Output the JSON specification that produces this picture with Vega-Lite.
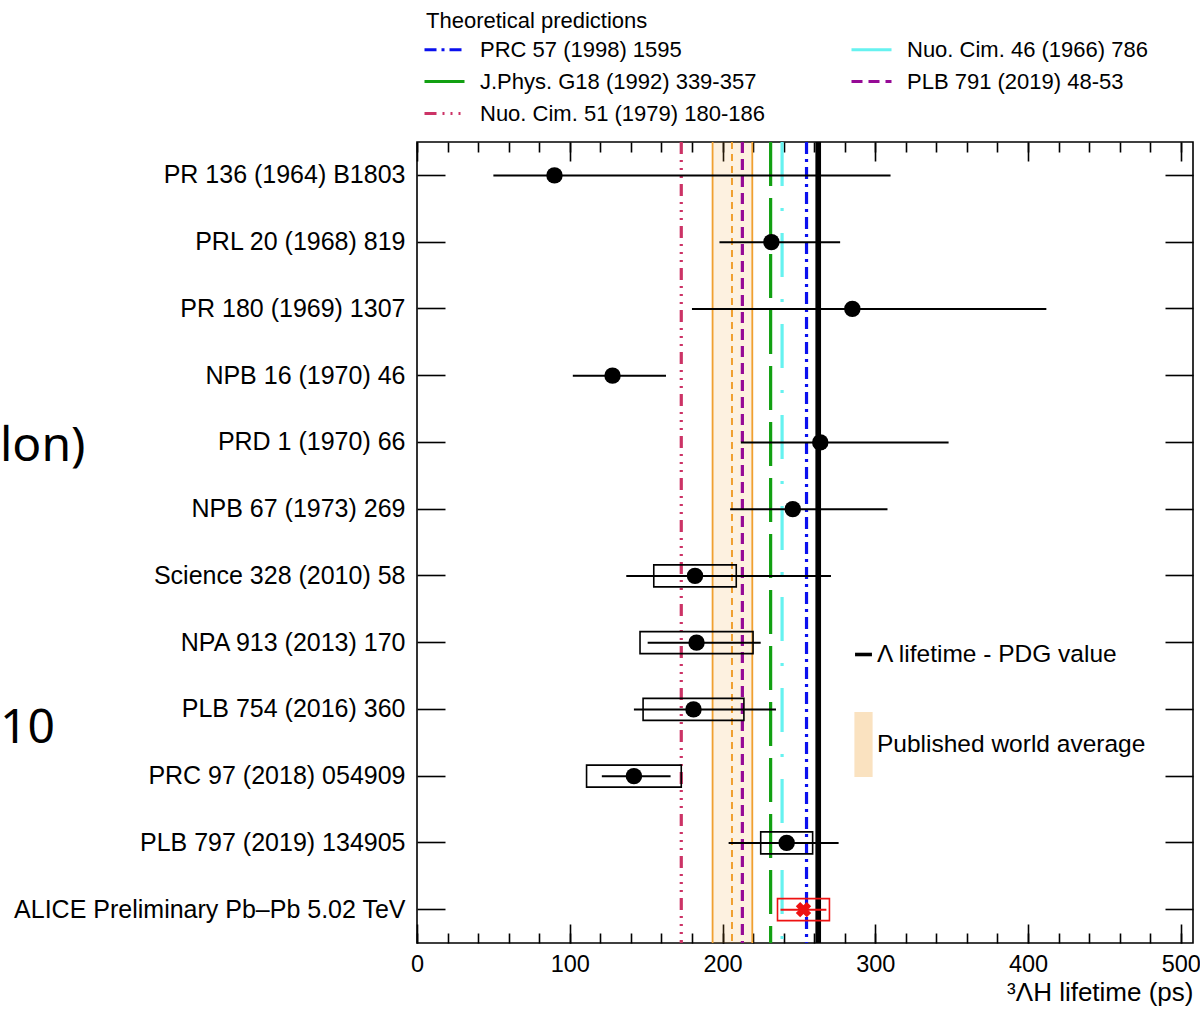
{
  "$schema": "https://vega.github.io/schema/vega-lite/v6.json",
  "width": 776,
  "height": 801,
  "autosize": {"type": "none"},
  "padding": {"left": 417, "top": 142, "right": 7, "bottom": 66},
  "background": "white",
  "config": {
    "font": "Liberation Sans",
    "view": {"stroke": "black", "strokeWidth": 1.6},
    "axis": {"grid": false, "domain": false, "tickColor": "black", "tickWidth": 1.6, "labelColor": "black", "titleColor": "black", "labelFont": "Liberation Sans", "titleFont": "Liberation Sans", "titleFontWeight": "normal", "labelLimit": 600},
    "legend": {"labelFont": "Liberation Sans", "titleFont": "Liberation Sans", "labelColor": "black", "titleColor": "black", "titleFontWeight": "normal", "padding": 0, "labelLimit": 600, "titleLimit": 600}
  },
  "datasets": {
    "meas": [
      {"name": "PR 136 (1964) B1803", "group": "past", "v": 90, "slo": 50, "shi": 310},
      {"name": "PRL 20 (1968) 819", "group": "past", "v": 232, "slo": 198, "shi": 277},
      {"name": "PR 180 (1969) 1307", "group": "past", "v": 285, "slo": 180, "shi": 412},
      {"name": "NPB 16 (1970) 46", "group": "past", "v": 128, "slo": 102, "shi": 163},
      {"name": "PRD 1 (1970) 66", "group": "past", "v": 264, "slo": 212, "shi": 348},
      {"name": "NPB 67 (1973) 269", "group": "past", "v": 246, "slo": 205, "shi": 308},
      {"name": "Science 328 (2010) 58", "group": "past", "v": 182, "slo": 137, "shi": 271, "ylo": 155, "yhi": 209},
      {"name": "NPA 913 (2013) 170", "group": "past", "v": 183, "slo": 151, "shi": 225, "ylo": 146, "yhi": 220},
      {"name": "PLB 754 (2016) 360", "group": "past", "v": 181, "slo": 142, "shi": 235, "ylo": 148, "yhi": 214},
      {"name": "PRC 97 (2018) 054909", "group": "past", "v": 142, "slo": 121, "shi": 166, "ylo": 111, "yhi": 173},
      {"name": "PLB 797 (2019) 134905", "group": "past", "v": 242, "slo": 204, "shi": 276, "ylo": 225, "yhi": 259},
      {"name": "ALICE Preliminary Pb–Pb 5.02 TeV", "group": "alice", "v": 253, "slo": 238, "shi": 268, "ylo": 236, "yhi": 270}
    ],
    "theory": [
      {"name": "PRC 57 (1998) 1595", "v": 255},
      {"name": "Nuo. Cim. 46 (1966) 786", "v": 239},
      {"name": "J.Phys. G18 (1992) 339-357", "v": 231.5},
      {"name": "PLB 791 (2019) 48-53", "v": 213},
      {"name": "Nuo. Cim. 51 (1979) 180-186", "v": 173}
    ],
    "bands": [
      {"name": "Published world average", "lo": 193.5, "hi": 219.5},
      {"name": "Λ lifetime - PDG value", "lo": 260.8, "hi": 264.5}
    ],
    "waedges": [{"v": 193.5}, {"v": 219.5}],
    "wacenter": [{"v": 206.2}],
    "notes": [
      {"text": "lon)", "row": "PRD 1 (1970) 66", "at": -273},
      {"text": "10", "row": "PLB 754 (2016) 360", "at": -273}
    ]
  },
  "layer": [
    {
      "data": {"name": "bands"},
      "mark": {"type": "rect"},
      "encoding": {
        "x": {"field": "lo", "type": "quantitative", "scale": {"domain": [0, 508], "nice": false, "zero": false},
          "axis": {"orient": "bottom", "values": [0, 100, 200, 300, 400, 500], "tickSize": -19, "labelPadding": 28, "labelFontSize": 23.5, "labelFlush": false, "title": "³ΛH lifetime (ps)", "titleFontSize": 26, "titleAnchor": "end", "titlePadding": 4}},
        "x2": {"field": "hi"},
        "fill": {"field": "name", "type": "nominal",
          "scale": {"domain": ["Λ lifetime - PDG value", "Published world average"], "range": ["black", "#f0a030"]},
          "legend": {"title": null, "orient": "none", "legendX": 414, "legendY": 480, "direction": "vertical", "symbolSize": 4225, "labelFontSize": 24.5, "labelOffset": -19, "rowPadding": 46, "symbolStrokeWidth": 0,
            "encode": {"symbols": {"update": {
              "shape": {"signal": "datum.value === 'Published world average' ? 'M-0.28,-1H0.28V1H-0.28Z' : 'M-0.26,-0.055H0.26V0.055H-0.26Z'"},
              "fillOpacity": {"signal": "datum.value === 'Published world average' ? 0.3 : 1"}
            }}}}},
        "fillOpacity": {"field": "name", "type": "nominal", "scale": {"domain": ["Λ lifetime - PDG value", "Published world average"], "range": [1, 0.15]}, "legend": null}
      }
    },
    {
      "data": {"name": "waedges"},
      "mark": {"type": "rule", "color": "#f0a030", "strokeWidth": 1.8},
      "encoding": {
        "x": {"field": "v", "type": "quantitative", "scale": {"domain": [0, 508], "nice": false, "zero": false},
          "axis": {"orient": "top", "values": [0, 100, 200, 300, 400, 500], "tickSize": -19, "labels": false, "title": null}}
      }
    },
    {
      "data": {"name": "wacenter"},
      "mark": {"type": "rule", "color": "#f0a030", "strokeWidth": 2, "strokeDash": [7, 5]},
      "encoding": {
        "x": {"field": "v", "type": "quantitative", "scale": {"domain": [0, 508], "nice": false, "zero": false},
          "axis": {"orient": "top", "values": [0, 20, 40, 60, 80, 100, 120, 140, 160, 180, 200, 220, 240, 260, 280, 300, 320, 340, 360, 380, 400, 420, 440, 460, 480, 500], "tickSize": -10, "labels": false, "title": null}}
      }
    },
    {
      "data": {"name": "theory"},
      "mark": {"type": "rule", "strokeWidth": 3.2},
      "encoding": {
        "x": {"field": "v", "type": "quantitative", "scale": {"domain": [0, 508], "nice": false, "zero": false},
          "axis": {"orient": "bottom", "values": [0, 20, 40, 60, 80, 100, 120, 140, 160, 180, 200, 220, 240, 260, 280, 300, 320, 340, 360, 380, 400, 420, 440, 460, 480, 500], "tickSize": -10, "labels": false, "title": null}},
        "stroke": {"field": "name", "type": "nominal",
          "scale": {"domain": ["PRC 57 (1998) 1595", "J.Phys. G18 (1992) 339-357", "Nuo. Cim. 51 (1979) 180-186", "Nuo. Cim. 46 (1966) 786", "PLB 791 (2019) 48-53"],
                    "range": ["#0a10ee", "#12a012", "#cc3366", "#66f2f0", "#960a96"]},
          "legend": {"title": "Theoretical predictions", "orient": "none", "legendX": 9, "legendY": -131, "columns": 2, "titleFontSize": 22, "labelFontSize": 22, "symbolType": "M-2,0H2", "symbolSize": 400, "symbolStrokeWidth": 3, "symbolOffset": 7, "labelOffset": 24, "rowPadding": 9, "columnPadding": 80, "titlePadding": 5}},
        "strokeDash": {"field": "name", "type": "nominal",
          "scale": {"domain": ["PRC 57 (1998) 1595", "J.Phys. G18 (1992) 339-357", "Nuo. Cim. 51 (1979) 180-186", "Nuo. Cim. 46 (1966) 786", "PLB 791 (2019) 48-53"],
                    "range": [[12, 5, 3, 5], [44, 12], [12, 6, 2, 6, 2, 6, 2, 6], [44, 22, 3, 22], [11, 6]]},
          "legend": {"title": "Theoretical predictions", "orient": "none", "legendX": 9, "legendY": -131, "columns": 2, "titleFontSize": 22, "labelFontSize": 22, "symbolType": "M-2,0H2", "symbolSize": 400, "symbolStrokeWidth": 3, "symbolOffset": 7, "labelOffset": 24, "rowPadding": 9, "columnPadding": 80, "titlePadding": 5}}
      }
    },
    {
      "data": {"name": "meas"},
      "mark": {"type": "rule", "strokeWidth": 2},
      "encoding": {
        "y": {"field": "name", "type": "nominal", "sort": null,
          "scale": {"domain": ["PR 136 (1964) B1803", "PRL 20 (1968) 819", "PR 180 (1969) 1307", "NPB 16 (1970) 46", "PRD 1 (1970) 66", "NPB 67 (1973) 269", "Science 328 (2010) 58", "NPA 913 (2013) 170", "PLB 754 (2016) 360", "PRC 97 (2018) 054909", "PLB 797 (2019) 134905", "ALICE Preliminary Pb–Pb 5.02 TeV"], "paddingInner": 0, "paddingOuter": 0},
          "axis": {"orient": "left", "tickSize": -28, "labelPadding": 40, "labelFontSize": 25, "title": null}},
        "x": {"field": "slo", "type": "quantitative", "scale": {"domain": [0, 508], "nice": false, "zero": false}, "axis": null},
        "x2": {"field": "shi"},
        "color": {"field": "group", "type": "nominal", "scale": {"domain": ["past", "alice"], "range": ["black", "#ee1111"]}, "legend": null}
      }
    },
    {
      "data": {"name": "meas"},
      "transform": [{"filter": "isValid(datum.ylo)"}],
      "mark": {"type": "bar", "filled": false, "height": 22, "strokeWidth": 1.6},
      "encoding": {
        "y": {"field": "name", "type": "nominal", "sort": null,
          "scale": {"domain": ["PR 136 (1964) B1803", "PRL 20 (1968) 819", "PR 180 (1969) 1307", "NPB 16 (1970) 46", "PRD 1 (1970) 66", "NPB 67 (1973) 269", "Science 328 (2010) 58", "NPA 913 (2013) 170", "PLB 754 (2016) 360", "PRC 97 (2018) 054909", "PLB 797 (2019) 134905", "ALICE Preliminary Pb–Pb 5.02 TeV"], "paddingInner": 0, "paddingOuter": 0},
          "axis": {"orient": "right", "tickSize": -28, "labels": false, "title": null}},
        "x": {"field": "ylo", "type": "quantitative", "scale": {"domain": [0, 508], "nice": false, "zero": false}, "axis": null},
        "x2": {"field": "yhi"},
        "color": {"field": "group", "type": "nominal", "scale": {"domain": ["past", "alice"], "range": ["black", "#ee1111"]}, "legend": null}
      }
    },
    {
      "data": {"name": "meas"},
      "transform": [{"filter": "datum.group === 'past'"}],
      "mark": {"type": "point", "shape": "circle", "filled": true, "size": 270, "color": "black", "opacity": 1},
      "encoding": {
        "y": {"field": "name", "type": "nominal", "sort": null, "axis": null},
        "x": {"field": "v", "type": "quantitative", "axis": null}
      }
    },
    {
      "data": {"name": "meas"},
      "transform": [{"filter": "datum.group === 'alice'"}],
      "mark": {"type": "point", "shape": "cross", "angle": 45, "filled": true, "size": 240, "color": "#ee1111", "opacity": 1},
      "encoding": {
        "y": {"field": "name", "type": "nominal", "sort": null, "axis": null},
        "x": {"field": "v", "type": "quantitative", "axis": null}
      }
    },
    {
      "data": {"name": "notes"},
      "transform": [{"filter": "datum.text === 'lon)'"}],
      "mark": {"type": "text", "font": "Noto Sans", "fontSize": 48, "align": "left", "baseline": "alphabetic", "dy": 19, "color": "black"},
      "encoding": {
        "y": {"field": "row", "type": "nominal", "sort": null, "axis": null},
        "x": {"field": "at", "type": "quantitative", "axis": null},
        "text": {"field": "text"}
      }
    },
    {
      "data": {"name": "notes"},
      "transform": [{"filter": "datum.text === '10'"}],
      "mark": {"type": "text", "font": "Noto Sans", "fontSize": 48, "align": "left", "baseline": "alphabetic", "dy": 34, "color": "black"},
      "encoding": {
        "y": {"field": "row", "type": "nominal", "sort": null, "axis": null},
        "x": {"field": "at", "type": "quantitative", "axis": null},
        "text": {"field": "text"}
      }
    }
  ],
  "resolve": {"axis": {"x": "independent", "y": "independent"}}
}
